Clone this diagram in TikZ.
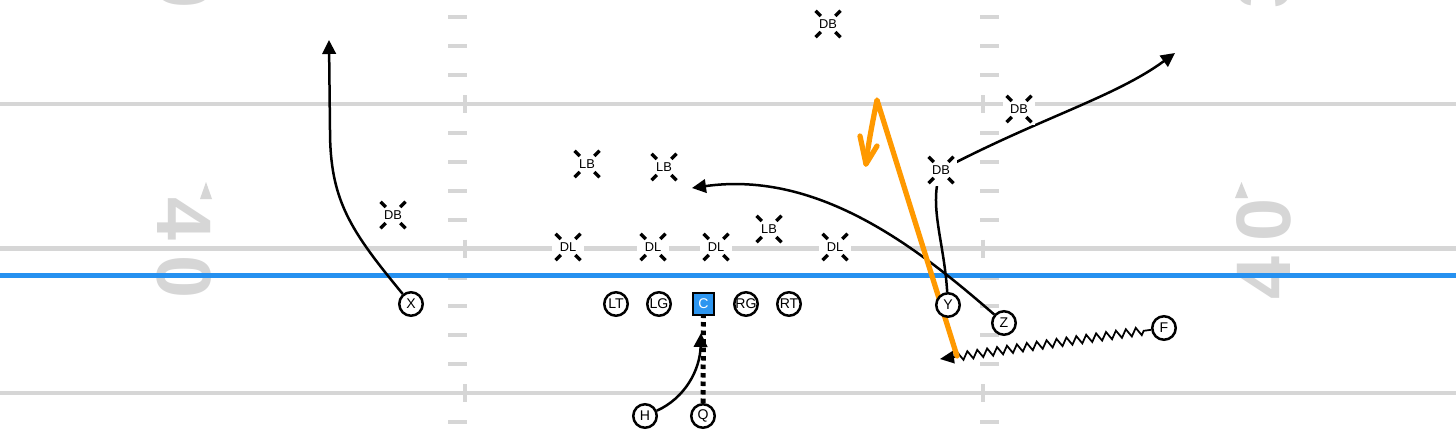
\documentclass[tikz,border=0pt]{standalone}
\usepackage{fontspec}
\setmainfont{Liberation Sans}
\usepackage{xcolor}
\usepackage{tikz}
\usetikzlibrary{shapes,arrows.meta,decorations.pathmorphing}
\definecolor{fieldGray}{RGB}{214,214,214}
\definecolor{scrimmageBlue}{RGB}{38,145,240}
\definecolor{centerBlue}{RGB}{45,150,240}
\definecolor{readOrange}{RGB}{255,153,0}
\pgfdeclarelayer{field}
\pgfdeclarelayer{routes}
\pgfsetlayers{field,routes,main}
\tikzstyle{tsSmallText} = [
    text=black,
    font=\fontsize{8}{9}\selectfont
]
\tikzstyle{tsPlayer} = [
    circle,
    tsSmallText,
    draw=black,
    fill=white,
    line width=0.5mm,
    minimum size=4.7mm,
    inner sep=0pt]
\tikzstyle{tsCenter} = [
    rectangle,
    tsSmallText,
    text=white,
    draw=black,
    fill=centerBlue,
    line width=0.4mm,
    minimum size=4.3mm,
    inner sep=0pt]
\tikzstyle{tsDefender} = [
    rectangle,
    text=black,
    font=\fontsize{7.3}{8}\selectfont,
    fill=white,
    minimum size=6.4mm,
    inner sep=0pt,
    path picture={
        \foreach \sx/\sy in {1/1,1/-1,-1/1,-1/-1}
            \draw[black, line width=0.65mm] (path picture bounding box.center) ++(\sx*1.45mm,\sy*1.6mm) -- ++(\sx*1.05mm,\sy*1.05mm);
    }]
\tikzstyle{tsYardLine} = [
    draw=fieldGray,
    line width=0.85mm
]
\tikzstyle{tsHash} = [
    draw=fieldGray,
    line width=0.8mm
]
\tikzstyle{tsYardNumber} = [
    text=fieldGray,
    font=\fontsize{44}{44}\selectfont\bfseries,
    inner sep=0pt
]
\tikzstyle{tsRoute} = [
    draw=black,
    line width=0.5mm,
    -{Triangle[length=2.8mm,width=2.7mm]}
]
\tikzstyle{tsZigzag} = [
    draw=black,
    line width=0.35mm,
    decorate,
    decoration={zigzag, amplitude=0.8mm, segment length=2mm, pre length=1.5mm, post length=3mm},
    -{Triangle[length=2.8mm,width=2.5mm]}
]
\tikzstyle{tsMotion} = [
    draw=black,
    line width=1mm,
    dash pattern=on 0.9mm off 0.8mm
]
\tikzstyle{tsRead} = [
    draw=readOrange,
    line width=1.05mm,
    line cap=round,
    line join=round
]

\begin{document}
\begin{tikzpicture}[x=0.2mm, y=-0.2mm]

        \useasboundingbox (0,0) rectangle (1456,445);

        % offense
        \node[tsPlayer] (X) at (411,304) {X};
        \node[tsPlayer] (LT) at (616,304) {LT};
        \node[tsPlayer] (LG) at (659,304) {LG};
        \node[tsCenter] (C) at (703.5,304) {C};
        \node[tsPlayer] (RG) at (746,304) {RG};
        \node[tsPlayer] (RT) at (789,304) {RT};
        \node[tsPlayer] (Y) at (948,305) {Y};
        \node[tsPlayer] (Z) at (1004,323) {Z};
        \node[tsPlayer] (F) at (1164,328) {F};
        \node[tsPlayer] (H) at (645,416) {H};
        \node[tsPlayer] (Q) at (703,416) {Q};

        % defense
        \node[tsDefender] (dbTop) at (828,24) {DB};
        \node[tsDefender] (dbDeep) at (1019,109) {DB};
        \node[tsDefender] (dbY) at (941,170) {DB};
        \node[tsDefender] (dbX) at (393,215) {DB};
        \node[tsDefender] (lbLeft) at (587,164) {LB};
        \node[tsDefender] (lbMid) at (664,167) {LB};
        \node[tsDefender] (lbRight) at (769,229) {LB};
        \node[tsDefender] (dlA) at (568,247) {DL};
        \node[tsDefender] (dlB) at (653,247) {DL};
        \node[tsDefender] (dlC) at (716,247) {DL};
        \node[tsDefender] (dlD) at (835,247) {DL};

        \coordinate (xEnd) at (329,40);
        \coordinate (yEnd) at (1175,53);
        \coordinate (zEnd) at (692,188);
        \coordinate (fEnd) at (940,359);
        \coordinate (hEnd) at (701,333);
        \coordinate (readStart) at (957,356);
        \coordinate (readTop) at (877,100);
        \coordinate (readTip) at (866,164);

        \begin{pgfonlayer}{routes}
            \draw[tsRoute] (X) .. controls (350,230) and (330,200) .. (330,130) -- (xEnd);
            \draw[tsRoute] (Y) .. controls (944,240) and (928,205) .. (dbY.center) .. controls (1040,118) and (1115,97) .. (yEnd);
            \draw[tsRoute] (Z) .. controls (920,250) and (820,170) .. (zEnd);
            \draw[tsZigzag] (F) -- (fEnd);
            \draw[tsRoute] (H) .. controls (685,398) and (700,370) .. (hEnd);
            \draw[tsMotion] (Q) -- (C);

            \draw[tsRead] (readStart) -- (readTop) .. controls (872,125) and (868,145) .. (readTip);
            \draw[tsRead] (860,136) -- (readTip) -- (877,146);
        \end{pgfonlayer}

        \begin{pgfonlayer}{field}
            \fill[white] (0,0) rectangle (1456,445);

            \foreach \hy in {17.3,46.2,75.1,133,161.9,190.8,219.7,277.5,306.4,335.3,364.2,422} {
                \draw[tsHash] (448,\hy) -- (467,\hy);
                \draw[tsHash] (980,\hy) -- (999,\hy);
            }
            \foreach \ly in {104,248.5,393} {
                \draw[tsYardLine] (0,\ly) -- (1456,\ly);
                \draw[tsHash] (464.8,\ly-9) -- (464.8,\ly+9);
                \draw[tsHash] (983,\ly-9) -- (983,\ly+9);
            }

            \node[tsYardNumber, rotate=-90] (leftFour) at (184.5,219) {4};
            \node[tsYardNumber, rotate=-90] (leftZero) at (184.5,277) {0};
            \node[tsYardNumber, rotate=-90] (leftThree) at (184.5,-71) {3};
            \node[tsYardNumber, rotate=-90] (leftZeroTop) at (184.5,-13) {0};
            \node[tsYardNumber, rotate=90] (rightZero) at (1263.5,220) {0};
            \node[tsYardNumber, rotate=90] (rightFour) at (1263.5,277.5) {4};
            \node[tsYardNumber, rotate=90] (rightZeroTop) at (1263.5,-71) {0};
            \node[tsYardNumber, rotate=90] (rightThree) at (1263.5,-13) {3};
            \fill[fieldGray] (200,199) -- (212,199) -- (206,182) -- cycle;
            \fill[fieldGray] (1235,198) -- (1248,198) -- (1241.5,182) -- cycle;

            \draw[scrimmageBlue, line width=1mm] (0,275) -- (1456,275);
        \end{pgfonlayer}

    \end{tikzpicture}
\end{document}
